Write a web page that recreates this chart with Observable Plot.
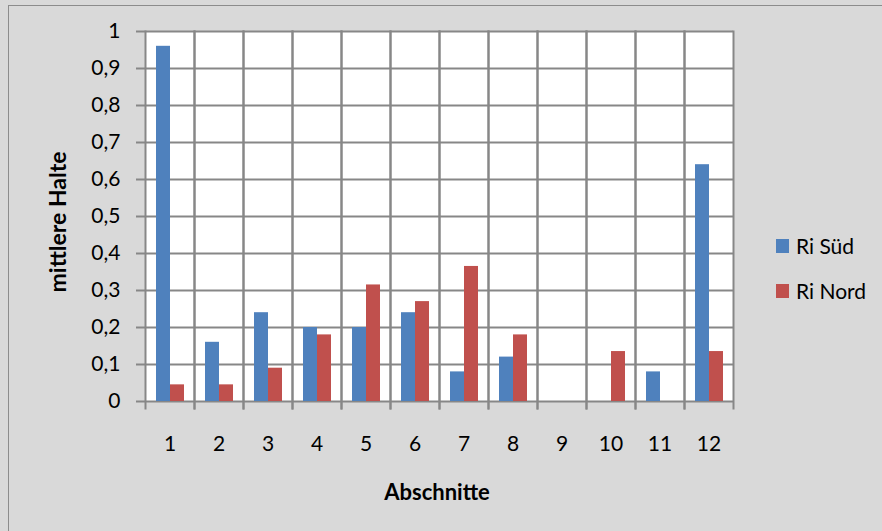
<!DOCTYPE html>
<html>
<head>
<meta charset="utf-8">
<script src="https://cdn.jsdelivr.net/npm/d3@7"></script>
<script src="https://cdn.jsdelivr.net/npm/@observablehq/plot@0.6"></script>
<style>
  html, body { margin: 0; padding: 0; background: #d9d9d9; }
  #wrap { position: relative; width: 882px; height: 531px; overflow: hidden; font-family: Lato, "Open Sans", sans-serif; color: #000; }
  #border { position: absolute; left: 8px; top: 5px; width: 900px; height: 560px; border: 1.5px solid #8c8c8c; box-sizing: border-box; }
  #chart { position: absolute; left: 0; top: 0; }
  .title { position: absolute; font-weight: bold; font-size: 22px; white-space: nowrap; }
  #ytitle { left: 57px; top: 222px; font-size: 23px; transform: translate(-50%, -50%) rotate(-90deg); }
  #xtitle { left: 437px; top: 491px; transform: translate(-50%, -50%); }
  .leg { position: absolute; left: 776px; display: flex; align-items: center; font-size: 21px; white-space: nowrap; }
  .sw { width: 13px; height: 14px; margin-right: 7px; }
</style>
</head>
<body>
<div id="wrap">
  <div id="border"></div>
  <div id="chart"></div>
  <div class="title" id="ytitle">mittlere Halte</div>
  <div class="title" id="xtitle">Abschnitte</div>
  <div id="legend"></div>
</div>
<script>
const categories = ["1", "2", "3", "4", "5", "6", "7", "8", "9", "10", "11", "12"];
const series = ["Ri Süd", "Ri Nord"];
const riSued = [0.96, 0.16, 0.24, 0.2, 0.2, 0.24, 0.08, 0.12, 0, 0, 0.08, 0.64];
const riNord = [0.045, 0.045, 0.09, 0.18, 0.315, 0.27, 0.365, 0.18, 0, 0.135, 0, 0.135];
const yTicks = [0, 0.1, 0.2, 0.3, 0.4, 0.5, 0.6, 0.7, 0.8, 0.9, 1];
const colors = ["#4f81bd", "#c0504d"];
const edgeColors = ["#8eb0da", "#dc8f8d"];

const table = [];
categories.forEach((c, i) => {
  table.push({cat: c, series: series[0], value: riSued[i]});
  table.push({cat: c, series: series[1], value: riNord[i]});
});

const grid = "#878787";
const chart = Plot.plot({
  width: 882,
  height: 531,
  marginLeft: 142,
  marginRight: 146,
  marginTop: 31,
  marginBottom: 130,
  style: {background: "transparent", fontFamily: "Lato, 'Open Sans', sans-serif", fontSize: "21px", color: "#000", overflow: "visible"},
  facet: {data: table, x: "cat"},
  fx: {domain: categories, padding: 0, label: null},
  x: {domain: series, paddingInner: 0, paddingOuter: 0.75, axis: null},
  y: {domain: [0, 1], label: null},
  color: {domain: series, range: colors},
  marks: [
    Plot.frame({fill: "white", stroke: "none"}),
    Plot.ruleY(yTicks, {stroke: grid, strokeWidth: 2}),
    Plot.frame({anchor: "left", stroke: grid, strokeWidth: 2, insetBottom: -7}),
    Plot.frame({anchor: "right", stroke: grid, strokeWidth: 2, insetBottom: -7}),
    Plot.barY(table, {x: "series", y: "value", fill: "series"}),
    Plot.axisY({ticks: yTicks, tickFormat: d => String(d).replace(".", ","), tickSize: 9, tickPadding: 16, stroke: grid, strokeWidth: 2, label: null, fontSize: 21, facetAnchor: "left"}),
    Plot.axisFx({anchor: "bottom", tickSize: 0, tickPadding: 35, label: null, fontSize: 21})
  ]
});
document.getElementById("chart").appendChild(chart);

const legend = document.getElementById("legend");
const legTops = [233, 278];
series.forEach((s, i) => {
  const row = document.createElement("div");
  row.className = "leg";
  row.style.top = legTops[i] + "px";
  row.innerHTML = `<div class="sw" style="background:${colors[i]}"></div><span>${s}</span>`;
  legend.appendChild(row);
});
</script>
</body>
</html>
